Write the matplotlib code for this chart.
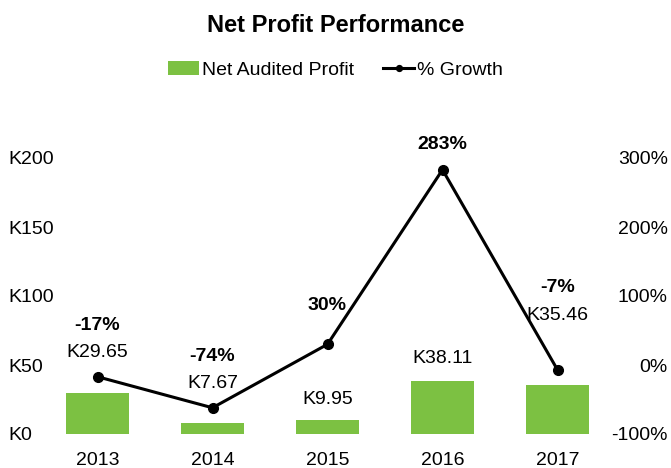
import matplotlib.pyplot as plt
from matplotlib.ticker import FuncFormatter

plt.rcParams['font.family'] = ['Liberation Sans', 'DejaVu Sans']

# data
years = ['2013', '2014', '2015', '2016', '2017']
net_profit = [29.65, 7.67, 9.95, 38.11, 35.46]   # thousands (K)
growth = [-17, -62, 30, 283, -7]                  # percent, as plotted
growth_labels = ['-17%', '-74%', '30%', '283%', '-7%']

# label offsets in pixels (Excel placed these by hand-ish)
pct_offsets = [51, 51, 39, 25, 82]     # above the growth point
val_offsets = [41, 40, 21, 23, 70]     # above the bar top

fig = plt.figure(figsize=(6.71, 4.68), dpi=100)
ax = fig.add_axes([40 / 671, 1 - 434 / 468, 575 / 671, 276 / 468])
ax2 = ax.twinx()

x = range(len(years))
bars = ax.bar(x, net_profit, width=0.55, color='#7CC142', label='Net Audited Profit')
line, = ax2.plot(x, growth, color='black', linewidth=2.2, marker='o', markersize=7,
                 label='% Growth')

ax.set_ylim(0, 200)
ax2.set_ylim(-100, 300)
ax.set_xlim(-0.5, len(years) - 0.5)
ax.set_yticks([0, 50, 100, 150, 200])
ax2.set_yticks([-100, 0, 100, 200, 300])
ax.yaxis.set_major_formatter(FuncFormatter(lambda v, p: f'K{v:.0f}'))
ax2.yaxis.set_major_formatter(FuncFormatter(lambda v, p: f'{v:.0f}%'))
ax.set_xticks(list(x))
ax.set_xticklabels(years)

for a in (ax, ax2):
    for s in a.spines.values():
        s.set_visible(False)
    a.tick_params(length=0, labelsize=14, colors='black')
ax.tick_params(axis='y', pad=23)
for t in ax.get_yticklabels():
    t.set_ha('left')
ax2.tick_params(axis='y', pad=38)
for t in ax2.get_yticklabels():
    t.set_ha('right')
ax.tick_params(axis='x', pad=13)

# data labels
for i in x:
    ax2.annotate(growth_labels[i], (i, growth[i]), xytext=(0, pct_offsets[i]),
                 textcoords='offset pixels', ha='center', va='center',
                 fontsize=14, fontweight='bold')
    ax.annotate(f'K{net_profit[i]:.2f}', (i, net_profit[i]), xytext=(0, val_offsets[i]),
                textcoords='offset pixels', ha='center', va='center', fontsize=14)

fig.suptitle('Net Profit Performance', y=1 - 25 / 468, va='center',
             fontsize=17, fontweight='bold')
fig.legend(handles=[bars, line], loc='center', bbox_to_anchor=(0.5, 1 - 70 / 468),
           ncol=2, frameon=False, fontsize=14, handlelength=1.6, markerscale=0.6,
           handletextpad=0.15, columnspacing=1.5)

fig.savefig('out.png', dpi=100)
